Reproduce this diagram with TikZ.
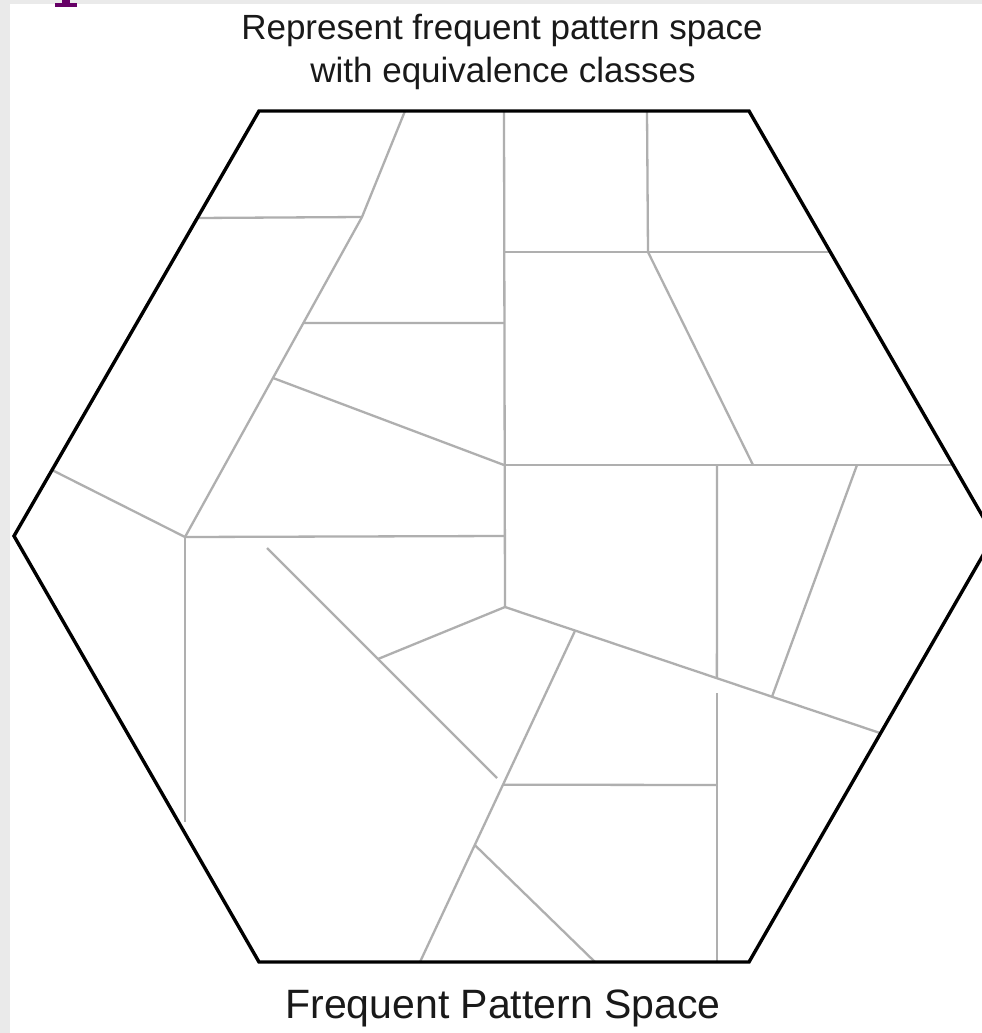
\documentclass[tikz,border=0pt]{standalone}
\usepackage{fontspec}
\setmainfont{Liberation Sans}
\usetikzlibrary{calc}
\definecolor{bgtex}{RGB}{234,234,234}
\definecolor{cellline}{RGB}{175,175,175}
\definecolor{titlepurple}{RGB}{102,0,102}
\definecolor{txt}{RGB}{25,25,25}
\tikzset{
  hexline/.style={draw=black, line width=3.4pt, line join=miter},
  cellwall/.style={draw=cellline, line width=2.3pt},
  caption/.style={text=txt, inner sep=0pt, anchor=base},
}
\begin{document}
\begin{tikzpicture}[x=1pt,y=-1pt]
\clip (0,0) rectangle (982,1033);
\fill[bgtex] (0,0) rectangle (982,1033);
\fill[white] (10,4) rectangle (982,1033);
% fragment of the cut-off purple slide title
\fill[titlepurple] (61.5,0) rectangle (70,4.5);
\fill[titlepurple] (55,3.5) rectangle (77,7);

% hexagon corners
\coordinate (H1) at (259,111);
\coordinate (H2) at (749,111);
\coordinate (H3) at (994,536);
\coordinate (H4) at (749,962);
\coordinate (H5) at (259,962);
\coordinate (H6) at (14,536);

% interior points
\coordinate (a1) at (197,218);
\coordinate (a2) at (362,217);
\coordinate (a3) at (405,111);
\coordinate (J) at (185,537);
\coordinate (a4) at ($(a2)!0.331!(J)$);
\coordinate (a5) at ($(a2)!0.503!(J)$);
\coordinate (a7) at (504,323);
\coordinate (T1) at (504,111);
\coordinate (M1) at (504,252);
\coordinate (T2) at (647,111);
\coordinate (M2) at (648,252);
\coordinate (M3) at (830,252);
\coordinate (C) at (504,465);
\coordinate (C2) at (753,465);
\coordinate (C3) at (857,465);
\coordinate (C4) at (953,465);
\coordinate (D) at (504,536);
\coordinate (P) at (505,607);
\coordinate (E) at (880,733);
\coordinate (V1) at (717,465);
\coordinate (V2) at ($(P)!0.565!(E)$);
\coordinate (V3) at (717,693);
\coordinate (V4) at (717,962);
\coordinate (F1) at ($(P)!0.712!(E)$);
\coordinate (K1) at (267,548);
\coordinate (K2) at (497,778);
\coordinate (G1) at (378,659);
\coordinate (L1) at ($(P)!0.187!(E)$);
\coordinate (L2) at (420,962);
\coordinate (L3) at ($(L1)!0.465!(L2)$);
\coordinate (L4) at (717,785);
\coordinate (L5) at ($(L1)!0.647!(L2)$);
\coordinate (L6) at (595,962);
\coordinate (W1) at (185,822);
\coordinate (W2) at (52,470);

% cell walls
\draw[cellwall] (a1) -- (a2);
\draw[cellwall] (a3) -- (a2) -- (J);
\draw[cellwall] (a4) -- (a7);
\draw[cellwall] (T1) -- (P);
\draw[cellwall] (a5) -- (C);
\draw[cellwall] (M1) -- (M3);
\draw[cellwall] (T2) -- (M2) -- (C2);
\draw[cellwall] (C) -- (C4);
\draw[cellwall] (V1) -- (V2);
\draw[cellwall] (V3) -- (V4);
\draw[cellwall] (P) -- (E);
\draw[cellwall] (C3) -- (F1);
\draw[cellwall] (P) -- (G1);
\draw[cellwall] (K1) -- (K2);
\draw[cellwall] (L1) -- (L2);
\draw[cellwall] (L3) -- (L4);
\draw[cellwall] (L5) -- (L6);
\draw[cellwall] (J) -- (W1);
\draw[cellwall] (J) -- (D);
\draw[cellwall] (W2) -- (J);

% hexagon outline
\draw[hexline] (H1) -- (H2) -- (H3) -- (H4) -- (H5) -- (H6) -- cycle;

% captions
\node[caption, font=\fontsize{35}{42}\selectfont] (t1) at (502,40) {Represent frequent pattern space};
\node[caption, font=\fontsize{35}{42}\selectfont] (t2) at (503,82) {with equivalence classes};
\node[caption, font=\fontsize{41}{48}\selectfont] (t3) at (503,1018) {Frequent Pattern Space};
\end{tikzpicture}
\end{document}
